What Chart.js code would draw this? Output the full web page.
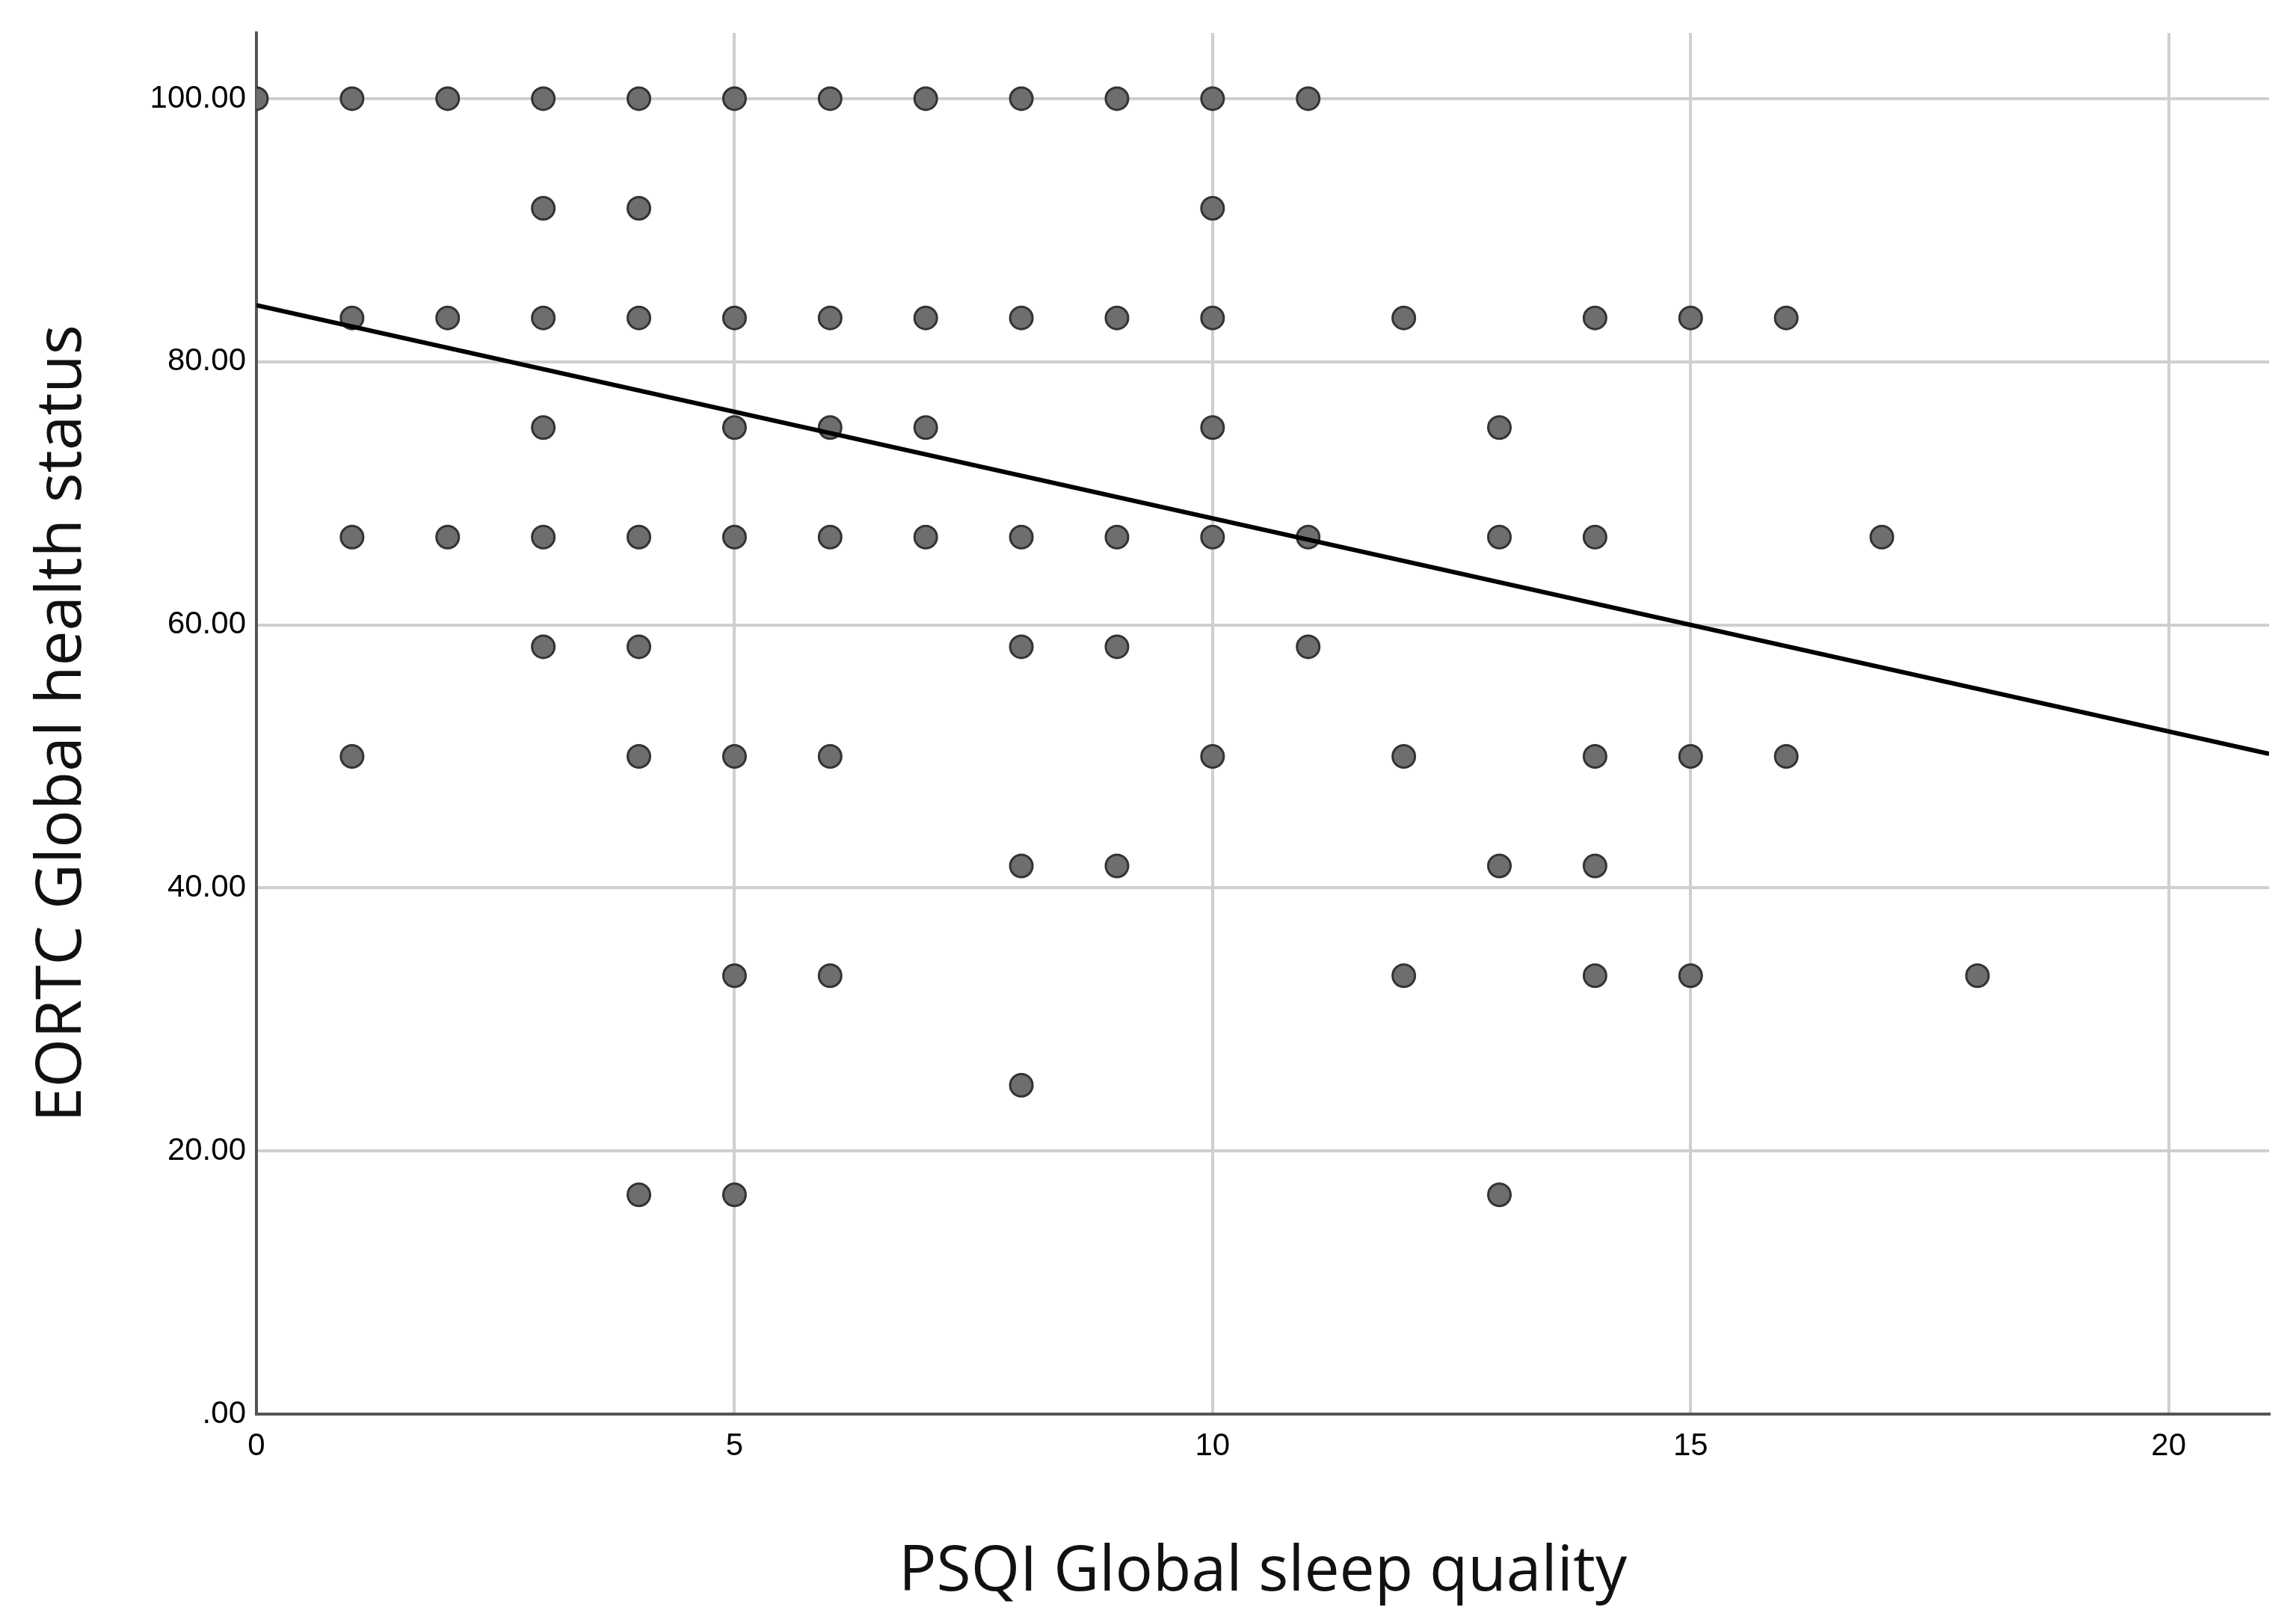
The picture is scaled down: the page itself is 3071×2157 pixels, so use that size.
<!DOCTYPE html>
<html><head><meta charset="utf-8">
<script src="https://cdn.jsdelivr.net/npm/chart.js@4/dist/chart.umd.min.js"></script>
<style>html,body{margin:0;padding:0;background:#fff}#w{width:3071px;height:2157px}</style>
</head><body><div id="w"><canvas id="c"></canvas></div>
<script>
const psqi = [0,1,2,3,4,5,6,7,8,9,10,11, 3,4,10, 1,2,3,4,5,6,7,8,9,10,12,14,15,16, 3,5,6,7,10,13, 1,2,3,4,5,6,7,8,9,10,11,13,14,17, 3,4,8,9,11, 1,4,5,6,10,12,14,15,16, 8,9,13,14, 5,6,12,14,15,18, 8, 4,5,13];
const eortc = [100,100,100,100,100,100,100,100,100,100,100,100, 91.67,91.67,91.67, 83.33,83.33,83.33,83.33,83.33,83.33,83.33,83.33,83.33,83.33,83.33,83.33,83.33,83.33, 75,75,75,75,75,75, 66.67,66.67,66.67,66.67,66.67,66.67,66.67,66.67,66.67,66.67,66.67,66.67,66.67,66.67, 58.33,58.33,58.33,58.33,58.33, 50,50,50,50,50,50,50,50,50, 41.67,41.67,41.67,41.67, 33.33,33.33,33.33,33.33,33.33,33.33, 25, 16.67,16.67,16.67];
const fitX = [0, 21.05];
const fitY = [84.3, 50.2];
const xTicks = [0,5,10,15,20];
const yTicks = [0,20,40,60,80,100];
const pts = psqi.map((x,i)=>({x:x,y:eortc[i]}));
new Chart(document.getElementById('c'),{
  data:{datasets:[
    {type:'line',data:fitX.map((x,i)=>({x:x,y:fitY[i]})),borderColor:'#000',borderWidth:6,pointRadius:0,order:0},
    {type:'scatter',data:pts,backgroundColor:'#6e6e6e',borderColor:'#333',borderWidth:3,pointRadius:15,order:1}
  ]},
  options:{responsive:true,maintainAspectRatio:false,animation:false,
    layout:{padding:{top:44,right:36,left:30,bottom:0}},
    plugins:{legend:{display:false},tooltip:{enabled:false}},
    scales:{
      x:{type:'linear',min:0,max:21.05,
        afterBuildTicks:s=>{s.ticks=xTicks.map(v=>({value:v}));},
        ticks:{color:'#000',font:{family:'Liberation Sans',size:42},padding:18,callback:v=>String(v)},
        grid:{color:'#cfcfcf',lineWidth:4,drawTicks:false},border:{color:'#555',width:4},
        title:{display:true,text:'PSQI Global sleep quality',color:'#111',font:{family:'Open Sans',size:84},padding:{top:50}},
        afterFit:s=>{s.height=266;}},
      y:{type:'linear',min:0,max:105,
        afterBuildTicks:s=>{s.ticks=yTicks.map(v=>({value:v}));},
        ticks:{color:'#000',font:{family:'Liberation Sans',size:42},padding:14,callback:v=>(v===0?'.00':v.toFixed(2))},
        grid:{color:'#cfcfcf',lineWidth:4,drawTicks:false},border:{color:'#555',width:4},
        title:{display:true,text:'EORTC Global health status',color:'#111',font:{family:'Open Sans',size:84},padding:{bottom:30}},
        afterFit:s=>{s.width=313;}}
    }}
});
</script></body></html>
